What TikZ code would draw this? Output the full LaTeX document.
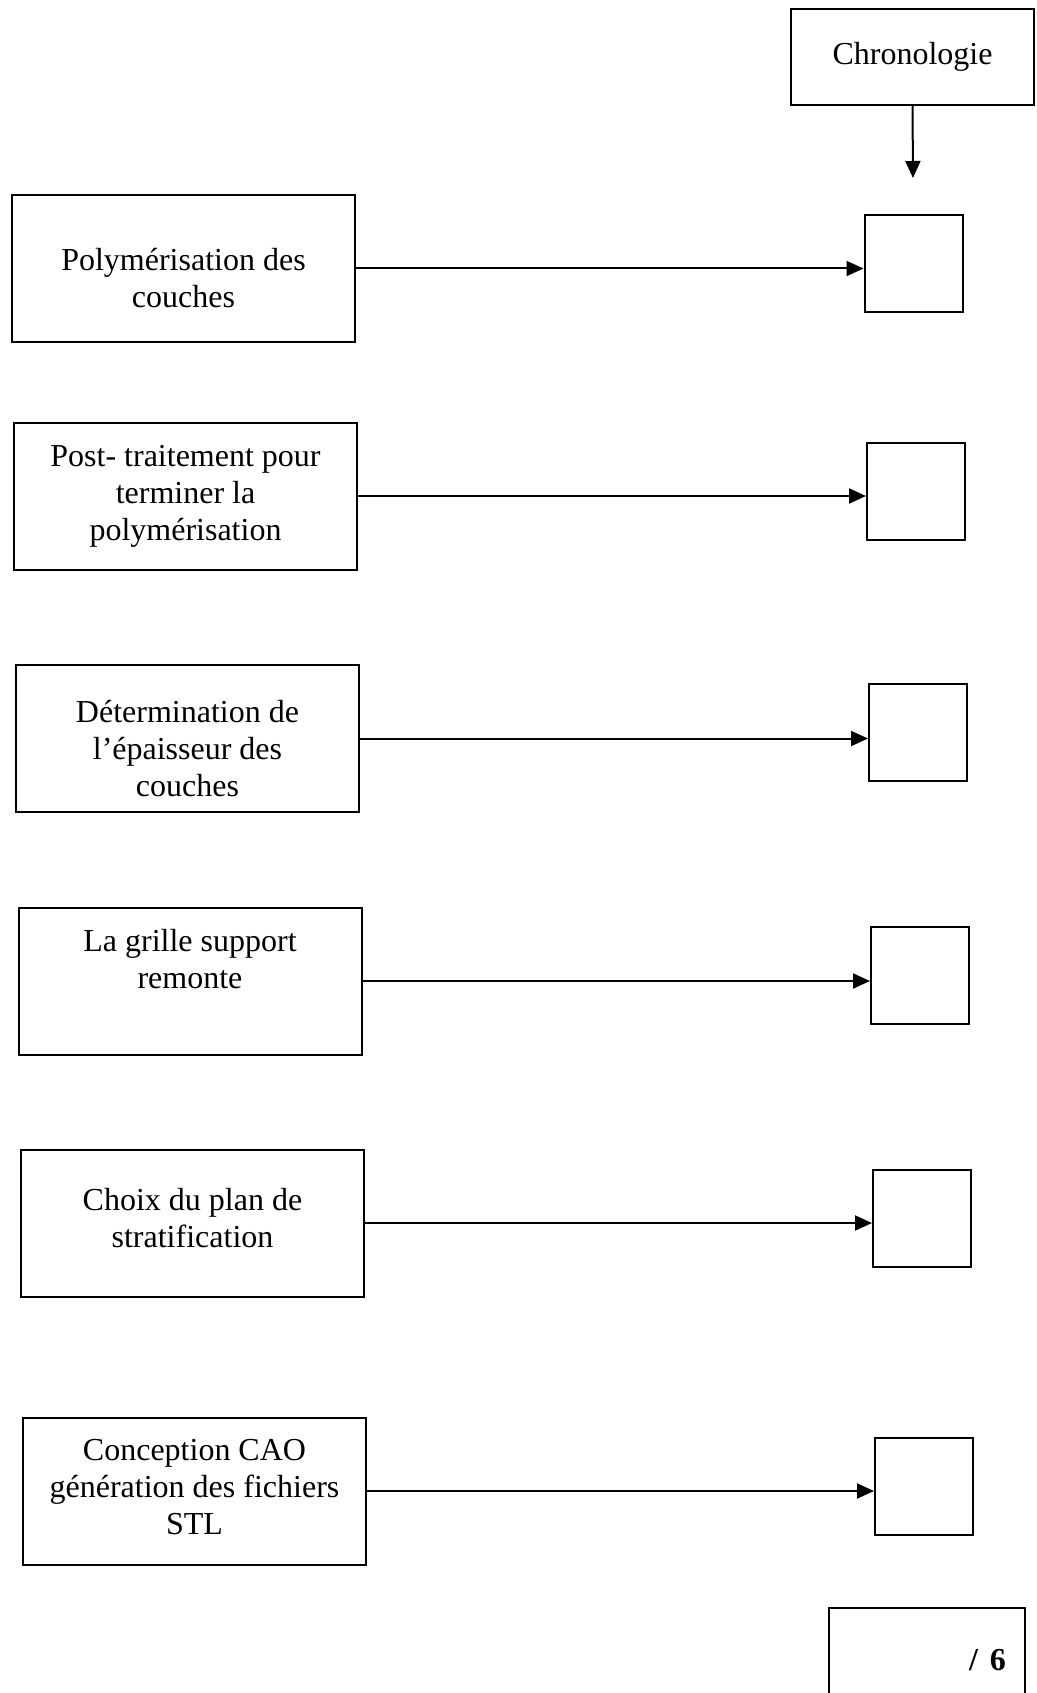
\documentclass[tikz,border=0pt]{standalone}
\usepackage{fontspec}
\setmainfont{Liberation Serif}
\usetikzlibrary{math,arrows.meta}

\begin{document}
\begin{tikzpicture}[x=1pt,y=-1pt,line width=2pt,
    texte/.style={font=\fontsize{32}{37}\selectfont},
    etape/.style={draw,texte,minimum width=343pt,minimum height=147pt,inner sep=0pt,align=center},
    case/.style={draw,minimum width=98pt,minimum height=97pt,inner sep=0pt},
    fleche/.style={-{Triangle[length=17pt,width=15pt]}}]
  \useasboundingbox (0,0) rectangle (1036,1693);
  \clip (0,0) rectangle (1036,1693);
  \tikzmath{\cx = 912.5; \cy = 57;}
  \node[draw,texte,minimum width=243pt,minimum height=96pt,inner sep=0pt] (chrono) at (\cx,\cy) {Chronologie};
  \coordinate (chronofin) at (913,178);
  \draw[fleche] (chrono.south) -- (chronofin);
  % les six etapes et leurs cases
  \foreach \n/\lx/\ly/\rx/\ry/\txt in {
      1/183.5/268.5/913.5/263.5/{~\\[5pt]Polymérisation des\\couches},
      2/185.5/496/916/491/{Post- traitement pour\\terminer la\\polymérisation},
      3/187.5/738.5/918/732.5/{~\\[5pt]Détermination de\\l’épaisseur des\\couches},
      4/190/981/920/975.5/{La grille support\\remonte\\[8pt]~},
      5/192.5/1223/922/1218.5/{Choix du plan de\\stratification\\[-26pt]~},
      6/194.5/1491/924/1486.5/{Conception CAO\\génération des fichiers\\STL\\[-29pt]~}} {
    \node[etape] (etape\n) at (\lx,\ly) {\txt};
    \node[case] (case\n) at (\rx,\ry) {};
    \draw[fleche] (etape\n.east) -- (etape\n.east -| case\n.west);
  }
  \node[draw,texte,minimum width=196pt,minimum height=120pt,inner sep=0pt,
        text width=158pt,align=right] (note) at (927,1668) {\textbf{/\hspace{12pt}6}\\[-20pt]~};
\end{tikzpicture}
\end{document}
